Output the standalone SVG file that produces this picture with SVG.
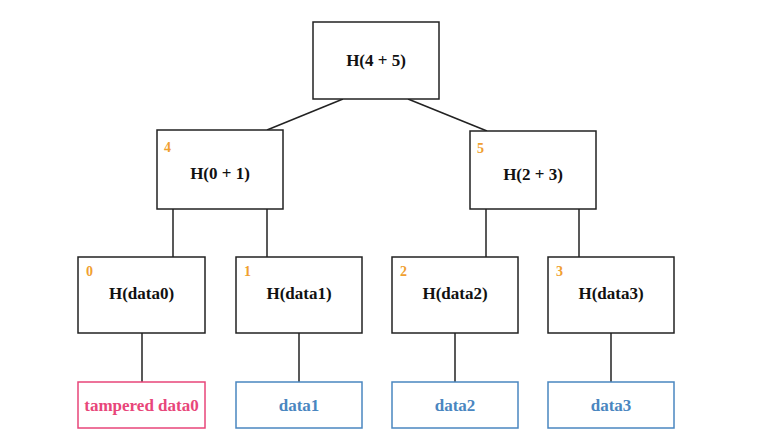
<svg xmlns="http://www.w3.org/2000/svg" width="760" height="440" viewBox="0 0 760 440">
<style>
.box{fill:#fff;stroke:#222;stroke-width:1.5}
.dbox{fill:#fff;stroke:#4a86c0;stroke-width:1.5}
.tbox{fill:#fff;stroke:#e8467a;stroke-width:1.5}
text{font-family:'Liberation Serif','Times New Roman','DejaVu Serif',serif;font-weight:bold}
.t{font-size:17px;text-anchor:middle;fill:#111}
.dt{font-size:17px;text-anchor:middle;fill:#4a86c0}
.tt{font-size:17px;text-anchor:middle;fill:#e8467a}
.idx{font-size:14px;fill:#f0a030}
.ln{stroke:#222;stroke-width:1.5;fill:none}
</style>
<rect width="760" height="440" fill="#fff"/>
<g id="connectors">
<line class="ln" x1="343" y1="99" x2="267" y2="130"/>
<line class="ln" x1="408" y1="99" x2="487" y2="131"/>
<line class="ln" x1="173" y1="209" x2="173" y2="257"/>
<line class="ln" x1="267" y1="209" x2="267" y2="257"/>
<line class="ln" x1="486" y1="209" x2="486" y2="257"/>
<line class="ln" x1="579" y1="209" x2="579" y2="257"/>
<line class="ln" x1="142" y1="333" x2="142" y2="382"/>
<line class="ln" x1="299" y1="333" x2="299" y2="382"/>
<line class="ln" x1="455" y1="333" x2="455" y2="382"/>
<line class="ln" x1="611" y1="333" x2="611" y2="382"/>
</g>
<g id="root">
<rect class="box" x="313" y="22" width="126" height="77"/>
<text class="t" x="376" y="66">H(4 + 5)</text>
</g>
<g id="n4">
<rect class="box" x="157" y="130" width="126" height="79"/>
<text class="idx" x="164" y="152">4</text>
<text class="t" x="220" y="178.5">H(0 + 1)</text>
</g>
<g id="n5">
<rect class="box" x="470" y="131" width="126" height="78"/>
<text class="idx" x="477" y="153">5</text>
<text class="t" x="533" y="179.5">H(2 + 3)</text>
</g>
<g id="n0">
<rect class="box" x="78" y="257" width="127" height="76"/>
<text class="idx" x="86" y="276">0</text>
<text class="t" x="141.5" y="298.5">H(data0)</text>
</g>
<g id="n1">
<rect class="box" x="236" y="257" width="126" height="76"/>
<text class="idx" x="244" y="276">1</text>
<text class="t" x="299" y="298.5">H(data1)</text>
</g>
<g id="n2">
<rect class="box" x="392" y="257" width="126" height="76"/>
<text class="idx" x="400" y="276">2</text>
<text class="t" x="455" y="298.5">H(data2)</text>
</g>
<g id="n3">
<rect class="box" x="548" y="257" width="126" height="76"/>
<text class="idx" x="556" y="276">3</text>
<text class="t" x="611" y="298.5">H(data3)</text>
</g>
<g id="d0">
<rect class="tbox" x="78" y="382" width="127" height="46"/>
<text class="tt" x="141.5" y="411">tampered data0</text>
</g>
<g id="d1">
<rect class="dbox" x="236" y="382" width="126" height="46"/>
<text class="dt" x="299" y="411">data1</text>
</g>
<g id="d2">
<rect class="dbox" x="392" y="382" width="126" height="46"/>
<text class="dt" x="455" y="411">data2</text>
</g>
<g id="d3">
<rect class="dbox" x="548" y="382" width="126" height="46"/>
<text class="dt" x="611" y="411">data3</text>
</g>
</svg>
